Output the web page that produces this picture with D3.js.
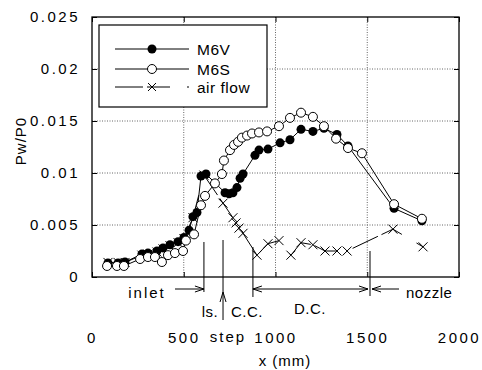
<!DOCTYPE html>
<html>
<head>
<meta charset="utf-8">
<script src="https://cdn.jsdelivr.net/npm/d3@7"></script>
<style>
  body { margin: 0; background: #fff; }
  svg { display: block; font-family: "Liberation Sans", Arial, sans-serif; }
</style>
</head>
<body>
<svg id="chart" width="482" height="370"></svg>
<script>
// --- data (x in mm, Pw/P0) ---
const m6vX = [87, 142, 180, 272, 305, 354, 387, 425, 469, 501, 529, 550, 572, 594, 621,
              725, 747, 768, 790, 807, 823, 888, 910, 959, 1025, 1079, 1139, 1204, 1264, 1335, 1395, 1646, 1798];
const m6vY = [0.00135, 0.00135, 0.00144, 0.0022, 0.0023, 0.0025, 0.0028, 0.0031, 0.0034, 0.0038, 0.0045, 0.0058, 0.0062, 0.0097, 0.0099,
              0.0081, 0.0080, 0.0081, 0.0086, 0.0095, 0.0099, 0.0117, 0.0122, 0.0123, 0.0129, 0.0132, 0.0142, 0.0140, 0.0143, 0.0137, 0.0126, 0.0066, 0.0054];

const m6sX = [82, 136, 174, 262, 305, 343, 381, 414, 452, 496, 512, 556, 594, 616, 670, 708,
              719, 752, 774, 796, 817, 845, 872, 910, 954, 1019, 1079, 1139, 1204, 1264, 1330, 1395, 1471, 1646, 1798];
const m6sY = [0.00106, 0.00106, 0.00106, 0.00173, 0.00192, 0.00192, 0.00144, 0.0021, 0.0023, 0.0025, 0.0035, 0.0041, 0.0069, 0.0078, 0.0090, 0.0099,
              0.0112, 0.0122, 0.0127, 0.0130, 0.0134, 0.0136, 0.0138, 0.0139, 0.0140, 0.0145, 0.0153, 0.0158, 0.0154, 0.0145, 0.0133, 0.0124, 0.0119, 0.0070, 0.0056];

const airX = [87, 142, 180, 272, 305, 354, 387, 425, 469, 501, 550, 610,
              714, 768, 785, 801, 823, 899, 959, 1019, 1084, 1139, 1204, 1270, 1335, 1390, 1640, 1804];
const airY = [0.0014, 0.0014, 0.0014, 0.0021, 0.0022, 0.0024, 0.0027, 0.0030, 0.0033, 0.0037, 0.0057, 0.0098,
              0.0071, 0.0057, 0.0052, 0.0047, 0.0042, 0.0021, 0.0032, 0.0035, 0.0021, 0.0033, 0.0031, 0.0025, 0.0025, 0.0025, 0.0046, 0.0029];

const xTicks = [0, 500, 1000, 1500, 2000];
const yTicks = [0, 0.005, 0.01, 0.015, 0.02, 0.025];
const yTickLabels = ["0", "0.005", "0.01", "0.015", "0.02", "0.025"];

const seriesNames = ["M6V", "M6S", "air flow"];

// section boundaries along the engine (mm)
const bInlet = 610, bStep = 714, bCC = 877, bNozzle = 1515;

// --- layout ---
const svg = d3.select("#chart");
const pL = 92, pR = 459, pT = 17, pB = 277;

const x = d3.scaleLinear().domain([0, 2000]).range([pL, pR]);
const y = d3.scaleLinear().domain([0, 0.025]).range([pB, pT]);

// grid (dotted)
const grid = svg.append("g").attr("stroke", "#666").attr("stroke-width", 1).attr("stroke-dasharray", "1,1.5");
grid.selectAll(".gx").data(xTicks.slice(1, -1)).enter().append("line")
    .attr("x1", d => x(d)).attr("x2", d => x(d)).attr("y1", pT).attr("y2", pB);
grid.selectAll(".gy").data(yTicks.slice(1, -1)).enter().append("line")
    .attr("x1", pL).attr("x2", pR).attr("y1", d => y(d)).attr("y2", d => y(d));

// axes: inward ticks on all sides, labels placed like the original
svg.append("g").attr("transform", `translate(${pL},0)`)
    .call(d3.axisLeft(y).tickValues(yTicks).tickSize(-5).tickPadding(12).tickFormat((d, i) => yTickLabels[i]));
svg.append("g").attr("transform", `translate(${pR},0)`)
    .call(d3.axisRight(y).tickValues(yTicks).tickSize(-5).tickFormat(""));
svg.append("g").attr("transform", `translate(0,${pB})`)
    .call(d3.axisBottom(x).tickValues(xTicks).tickSize(-5).tickPadding(55).tickFormat(d3.format("d")));
svg.append("g").attr("transform", `translate(0,${pT})`)
    .call(d3.axisTop(x).tickValues(xTicks).tickSize(-5).tickFormat(""));
svg.selectAll(".domain").remove();
svg.selectAll(".tick line").attr("stroke", "#000");
svg.selectAll(".tick text").attr("fill", "#000").attr("font-size", 15).attr("letter-spacing", "2.5px")
    .attr("font-family", "'Liberation Sans', Arial, sans-serif");

svg.append("rect").attr("x", pL).attr("y", pT).attr("width", pR - pL).attr("height", pB - pT)
    .attr("fill", "none").attr("stroke", "#000").attr("stroke-width", 1.3);

// axis titles
svg.append("text").attr("x", 285).attr("y", 366).attr("text-anchor", "middle")
    .attr("font-size", 15).attr("letter-spacing", "1px").text("x  (mm)");
svg.append("text").attr("transform", "translate(26,141) rotate(-90)").attr("text-anchor", "middle")
    .attr("font-size", 15).attr("letter-spacing", "1px").text("Pw/P0");

// --- series ---
const line = d3.line().x(d => x(d[0])).y(d => y(d[1]));
const air = airX.map((v, i) => [v, airY[i]]);
const m6v = m6vX.map((v, i) => [v, m6vY[i]]);
const m6s = m6sX.map((v, i) => [v, m6sY[i]]);
const airDash = "28,4,23,17";

function crosses(g, pts, s) {
  g.selectAll("path.cross").data(pts).enter().append("path").attr("class", "cross")
    .attr("d", d => `M${x(d[0]) - s},${y(d[1]) - s}L${x(d[0]) + s},${y(d[1]) + s}M${x(d[0]) - s},${y(d[1]) + s}L${x(d[0]) + s},${y(d[1]) - s}`)
    .attr("stroke", "#000").attr("stroke-width", 1).attr("fill", "none");
}

const gAir = svg.append("g");
gAir.append("path").datum(air).attr("d", line).attr("fill", "none").attr("stroke", "#000")
    .attr("stroke-width", 1).attr("stroke-dasharray", airDash);
crosses(gAir, air, 4.5);

const gV = svg.append("g");
gV.append("path").datum(m6v).attr("d", line).attr("fill", "none").attr("stroke", "#000").attr("stroke-width", 1);
gV.selectAll("circle").data(m6v).enter().append("circle")
    .attr("cx", d => x(d[0])).attr("cy", d => y(d[1])).attr("r", 4.5).attr("fill", "#000");

const gS = svg.append("g");
gS.append("path").datum(m6s).attr("d", line).attr("fill", "none").attr("stroke", "#000").attr("stroke-width", 1);
gS.selectAll("circle").data(m6s).enter().append("circle")
    .attr("cx", d => x(d[0])).attr("cy", d => y(d[1])).attr("r", 4.5)
    .attr("fill", "#fff").attr("stroke", "#000").attr("stroke-width", 1);

// --- legend ---
const lg = svg.append("g");
lg.append("rect").attr("x", 99).attr("y", 25).attr("width", 168).attr("height", 82)
    .attr("fill", "#fff").attr("stroke", "#000").attr("stroke-width", 1.2);
const legY = [49, 69, 87];
seriesNames.forEach((name, i) => {
  const ly = legY[i];
  lg.append("line").attr("x1", 115).attr("x2", 189).attr("y1", ly).attr("y2", ly)
    .attr("stroke", "#000").attr("stroke-width", 1).attr("stroke-dasharray", i === 2 ? airDash : null);
  if (i === 0) lg.append("circle").attr("cx", 152).attr("cy", ly).attr("r", 4.5).attr("fill", "#000");
  if (i === 1) lg.append("circle").attr("cx", 152).attr("cy", ly).attr("r", 4.5).attr("fill", "#fff").attr("stroke", "#000");
  if (i === 2) lg.append("path").attr("d", `M148,${ly - 4}L156,${ly + 4}M148,${ly + 4}L156,${ly - 4}`).attr("stroke", "#000");
  lg.append("text").attr("x", 197).attr("y", ly + 6).attr("font-size", 15.5).attr("letter-spacing", "0.5px")
    .text(name);
});

// --- section annotations under the plot ---
const an = svg.append("g").attr("stroke", "#000").attr("stroke-width", 1).attr("fill", "none");
const ay = 289;
function arrowHead(px, py, dir) { // dir: 1 right, -1 left
  an.append("path").attr("d", `M${px - dir * 9},${py - 3}L${px},${py}L${px - dir * 9},${py + 3}`);
}
// inlet
an.append("line").attr("x1", x(bInlet)).attr("x2", x(bInlet)).attr("y1", 242).attr("y2", 292);
an.append("line").attr("x1", 175).attr("x2", x(bInlet)).attr("y1", ay).attr("y2", ay);
arrowHead(x(bInlet), ay, 1);
// step
an.append("line").attr("x1", x(bStep)).attr("x2", x(bStep)).attr("y1", 240).attr("y2", 320);
an.append("path").attr("d", `M${x(bStep) - 3},${302}L${x(bStep)},${292}L${x(bStep) + 3},${302}`);
// C.C. / D.C.
an.append("line").attr("x1", x(bCC)).attr("x2", x(bCC)).attr("y1", 247).attr("y2", 297);
an.append("line").attr("x1", x(bNozzle)).attr("x2", x(bNozzle)).attr("y1", 251).attr("y2", 296);
an.append("line").attr("x1", x(bCC)).attr("x2", x(bNozzle) - 2).attr("y1", ay).attr("y2", ay);
arrowHead(x(bCC), ay, -1);
arrowHead(x(bNozzle) - 2, ay, 1);
// nozzle
an.append("line").attr("x1", x(bNozzle) + 2).attr("x2", 399).attr("y1", ay).attr("y2", ay);
arrowHead(x(bNozzle) + 2, ay, -1);

const labels = [
  { t: "inlet", x: 147, y: 298, a: "middle" },
  { t: "ls.", x: 210, y: 317, a: "middle" },
  { t: "C.C.", x: 247, y: 317, a: "middle" },
  { t: "step", x: 228, y: 342, a: "middle" },
  { t: "D.C.", x: 310, y: 314, a: "middle" },
  { t: "nozzle", x: 406, y: 298, a: "start" }
];
svg.selectAll("text.ann").data(labels).enter().append("text").attr("class", "ann")
  .attr("x", d => d.x).attr("y", d => d.y).attr("text-anchor", d => d.a)
  .attr("font-size", 15).attr("letter-spacing", d => d.t === "inlet" || d.t === "step" ? "2px" : "0.5px")
  .text(d => d.t);
</script>
</body>
</html>
